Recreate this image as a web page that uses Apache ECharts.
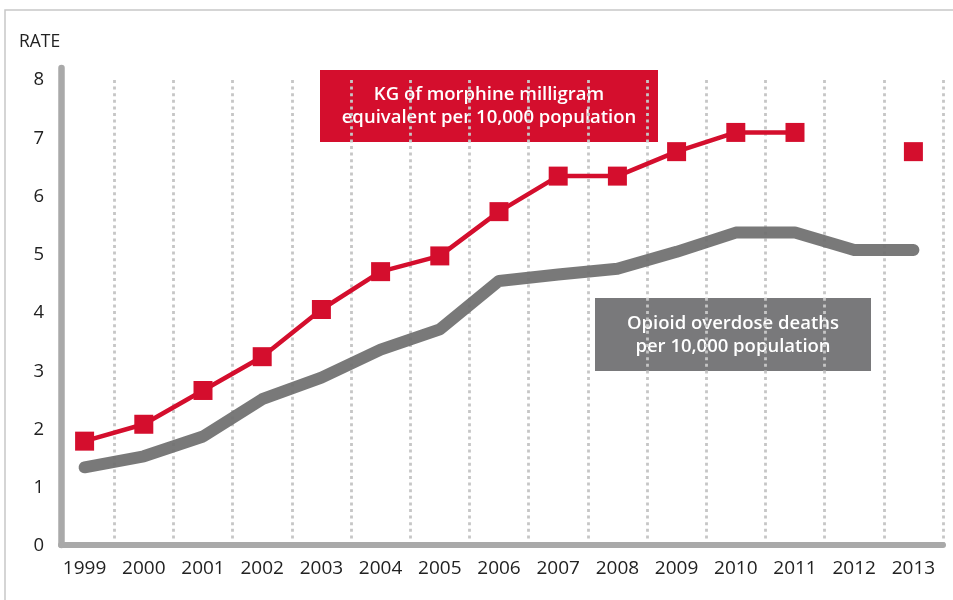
<!DOCTYPE html>
<html>
<head>
<meta charset="utf-8">
<script src="https://cdn.jsdelivr.net/npm/echarts@6/dist/echarts.min.js"></script>
<style>
html,body{margin:0;padding:0;background:#fff;}
#c{width:953px;height:600px;}
</style>
</head>
<body>
<div id="c"></div>
<script>
const years = ['1999','2000','2001','2002','2003','2004','2005','2006','2007','2008','2009','2010','2011','2012','2013'];
const morphineKg = [1.80, 2.09, 2.67, 3.25, 4.06, 4.71, 4.98, 5.74, 6.35, 6.35, 6.77, 7.10, 7.10, null, 6.77];
const overdoseDeaths = [1.35, 1.54, 1.88, 2.52, 2.89, 3.37, 3.72, 4.55, 4.66, 4.76, 5.05, 5.38, 5.38, 5.08, 5.08];
const yTicks = [0, 1, 2, 3, 4, 5, 6, 7, 8];
const redLabel = ['KG of morphine milligram', 'equivalent per 10,000 population'];
const grayLabel = ['Opioid overdose deaths', 'per 10,000 population'];

const FONT = 'Open Sans';
const chart = echarts.init(document.getElementById('c'), null, {renderer: 'canvas'});
chart.setOption({
  animation: false,
  backgroundColor: '#ffffff',
  grid: [
    {left: 55, right: 10, top: 80, bottom: 54, containLabel: false},
    {left: 61, right: 10, top: 68, bottom: 55, containLabel: false}
  ],
  xAxis: [
    {
      gridIndex: 0, type: 'category', data: years, boundaryGap: true,
      axisLine: {show: false}, axisTick: {show: false},
      axisLabel: {fontFamily: FONT, fontSize: 19, color: '#222', margin: 13, interval: 0},
      splitLine: {show: true, showMinLine: false, showMaxLine: true, interval: 0,
        lineStyle: {color: '#c6c6c6', width: 2.8, type: [3, 3.6]}}
    },
    {
      gridIndex: 1, type: 'value', min: 0, max: 1,
      axisLine: {show: true, onZero: false, lineStyle: {color: '#a9a9a9', width: 6}},
      axisTick: {show: false}, axisLabel: {show: false}, splitLine: {show: false}
    }
  ],
  yAxis: [
    {
      gridIndex: 0, type: 'value', min: yTicks[0], max: yTicks[yTicks.length - 1], interval: 1,
      axisLine: {show: false}, axisTick: {show: false}, splitLine: {show: false},
      axisLabel: {fontFamily: FONT, fontSize: 18.5, color: '#222', margin: 11}
    },
    {
      gridIndex: 1, type: 'value', min: 0, max: 1,
      axisLine: {show: true, onZero: false, lineStyle: {color: '#a9a9a9', width: 6.5}},
      axisTick: {show: false}, axisLabel: {show: false}, splitLine: {show: false}
    }
  ],
  series: [
    {
      name: 'Opioid overdose deaths per 10,000 population',
      type: 'line', xAxisIndex: 0, yAxisIndex: 0,
      data: overdoseDeaths, showSymbol: false, symbol: 'none',
      lineStyle: {color: 'rgba(110,110,110,0.92)', width: 12, cap: 'round', join: 'round'},
      z: 3
    },
    {
      name: 'KG of morphine milligram equivalent per 10,000 population',
      type: 'line', xAxisIndex: 0, yAxisIndex: 0,
      data: morphineKg, connectNulls: false,
      symbol: 'rect', symbolSize: 19,
      itemStyle: {color: '#d40e2d'},
      lineStyle: {color: '#d40e2d', width: 4.5},
      z: 4
    }
  ],
  graphic: [
    {type: 'polyline', silent: true, z: 0,
      shape: {points: [[5, 700], [5, 10], [1000, 10]]},
      style: {stroke: '#c8c8c8', lineWidth: 1.5, fill: null}},
    {type: 'text', left: 19, top: 33, silent: true,
      style: {text: 'RATE', font: '17.5px "Open Sans"', fill: '#222'}},
    {type: 'group', left: 320, top: 70, z: 10, children: [
      {type: 'rect', shape: {x: 0, y: 0, width: 338, height: 72}, style: {fill: '#d40e2d'}},
      {type: 'text', x: 169, y: 36.5, style: {text: redLabel.join('\n'), font: '600 18.5px "Open Sans"', fill: '#fff',
        align: 'center', verticalAlign: 'middle', lineHeight: 23}}
    ]},
    {type: 'group', left: 595, top: 298, z: 10, children: [
      {type: 'rect', shape: {x: 0, y: 0, width: 276, height: 73}, style: {fill: '#79797b'}},
      {type: 'text', x: 138, y: 37, style: {text: grayLabel.join('\n'), font: '600 18.5px "Open Sans"', fill: '#fff',
        align: 'center', verticalAlign: 'middle', lineHeight: 23}}
    ]}
  ]
});
</script>
</body>
</html>
